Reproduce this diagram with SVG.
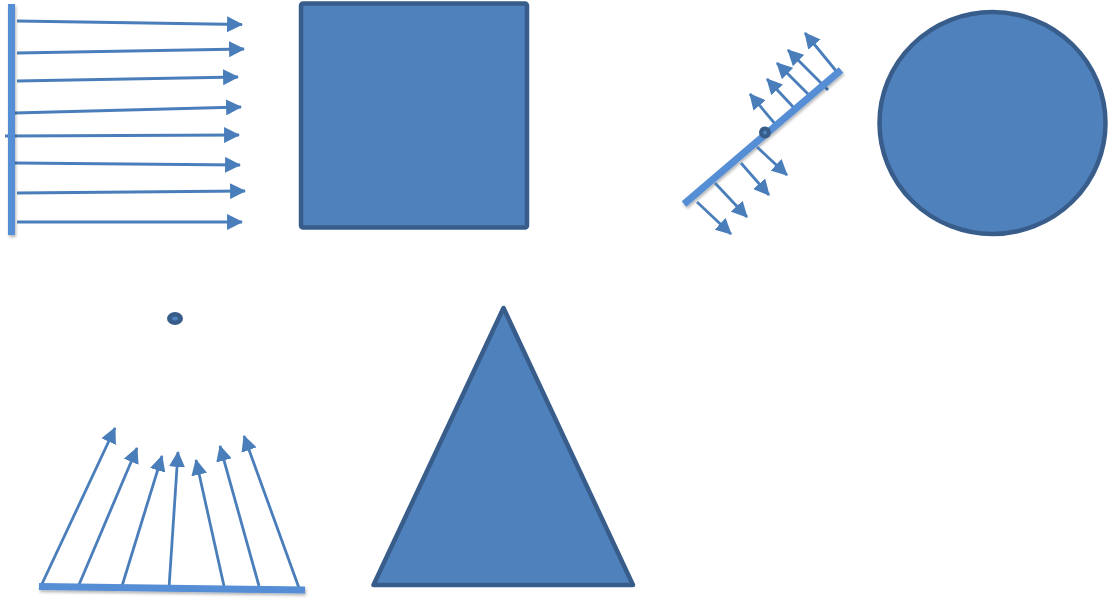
<svg xmlns="http://www.w3.org/2000/svg" width="1114" height="599" viewBox="0 0 1114 599">
<style>
.arr{stroke:#4a7ebb;stroke-width:2.8;fill:none;marker-end:url(#ah)}
.bar{stroke:#558ed5;stroke-width:7;fill:none;filter:url(#sh)}
.shape{fill:#4f81bd;stroke:#385d8a;stroke-width:4.5;stroke-linejoin:round}
</style>
<defs>
<marker id="ah" markerUnits="userSpaceOnUse" markerWidth="16" markerHeight="16" refX="14" refY="7.5" orient="auto" viewBox="0 0 15 15">
<path d="M0,0 L15,7.5 L0,15 z" fill="#4a7ebb"/>
</marker>
<filter id="sh" filterUnits="userSpaceOnUse" x="0" y="0" width="1114" height="599">
<feDropShadow dx="1" dy="2" stdDeviation="1.5" flood-color="#000" flood-opacity="0.3"/>
</filter>
</defs>
<rect width="1114" height="599" fill="#fff"/>

<g id="parallel-rays">
<line class="arr" x1="17" y1="21" x2="242" y2="24.5"/>
<line class="arr" x1="17" y1="53" x2="244" y2="49"/>
<line class="arr" x1="17" y1="81" x2="238" y2="77"/>
<line class="arr" x1="15" y1="113" x2="241" y2="107"/>
<line class="arr" x1="5" y1="136" x2="239" y2="135"/>
<line class="arr" x1="15" y1="163" x2="240" y2="165"/>
<line class="arr" x1="17" y1="193" x2="245" y2="191"/>
<line class="arr" x1="17" y1="222" x2="242" y2="222"/>
<line class="bar" x1="11.5" y1="4" x2="11.5" y2="235"/>
</g>

<g id="square">
<rect class="shape" x="301" y="3.5" width="226" height="224" rx="2"/>
</g>

<g id="tilted-rays">
<line class="arr" x1="776" y1="125" x2="750" y2="94"/>
<line class="arr" x1="796" y1="110" x2="767" y2="79"/>
<line class="arr" x1="812" y1="98" x2="777" y2="63"/>
<line class="arr" x1="828" y1="90" x2="788" y2="50"/>
<line class="arr" x1="837" y1="72" x2="805" y2="33"/>
<line class="bar" x1="684" y1="204" x2="841" y2="70"/>
<line class="arr" x1="757" y1="147" x2="787" y2="175"/>
<line class="arr" x1="741" y1="163" x2="769" y2="195"/>
<line class="arr" x1="715" y1="183" x2="747" y2="217"/>
<line class="arr" x1="697" y1="202" x2="731" y2="234"/>
<circle cx="765" cy="132.5" r="6" fill="#385d8a"/>
<circle cx="765" cy="132.5" r="2" fill="#4f81bd"/>
</g>

<g id="circle">
<ellipse class="shape" cx="992.5" cy="123" rx="113" ry="111"/>
</g>

<g id="point-source">
<ellipse cx="175" cy="318.5" rx="8" ry="6.5" fill="#385d8a"/>
<ellipse cx="175" cy="318.5" rx="3" ry="2" fill="#4f81bd"/>
</g>

<g id="converging-rays">
<line class="arr" x1="41" y1="586" x2="115" y2="428"/>
<line class="arr" x1="78" y1="587" x2="137" y2="448"/>
<line class="arr" x1="122" y1="586" x2="162" y2="456"/>
<line class="arr" x1="169" y1="588" x2="178" y2="452"/>
<line class="arr" x1="224" y1="586" x2="196" y2="460"/>
<line class="arr" x1="259" y1="586" x2="220" y2="446"/>
<line class="arr" x1="299" y1="588" x2="244" y2="436"/>
<line class="bar" x1="39" y1="586.5" x2="305" y2="590"/>
</g>

<g id="triangle">
<polygon class="shape" points="503.5,308 373.5,585 633,585"/>
</g>
</svg>
